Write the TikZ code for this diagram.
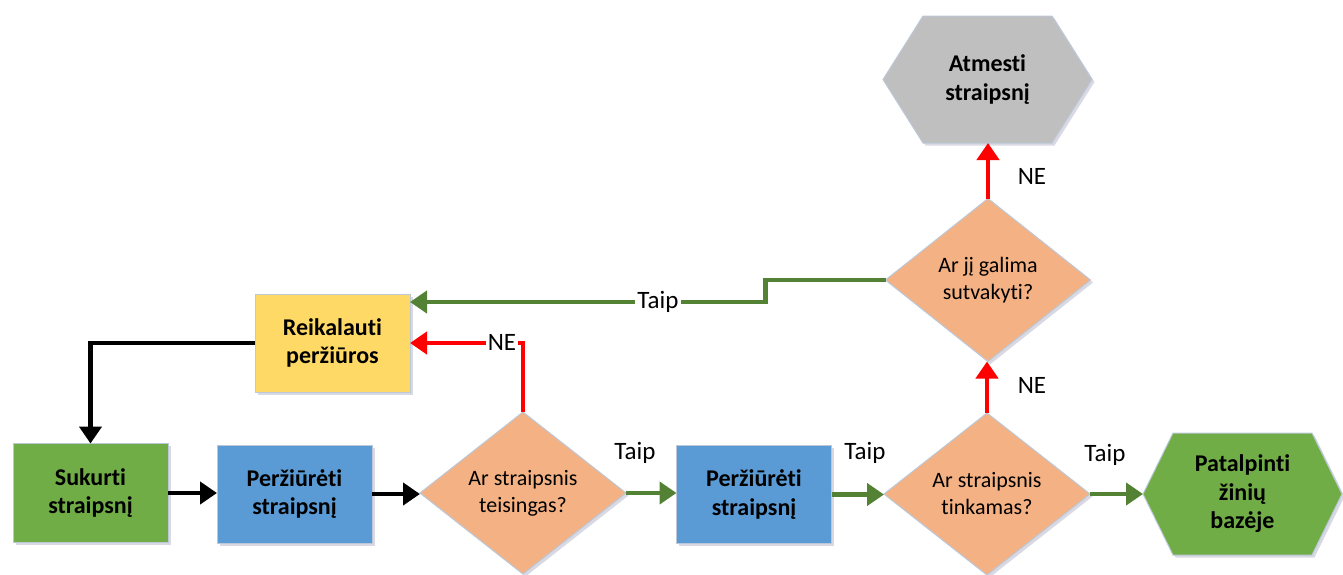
\documentclass[tikz,border=0pt]{standalone}
\usepackage{fontspec}
\setmainfont{Carlito}[Ligatures={TeX,NoCommon}]
\usetikzlibrary{shapes.geometric,arrows.meta,calc,shadows,backgrounds}

\definecolor{boxedge}{HTML}{BCC8D8}
\definecolor{greyfill}{HTML}{BFBFBF}
\definecolor{orangefill}{HTML}{F4B183}
\definecolor{yellowfill}{HTML}{FFD966}
\definecolor{greenfill}{HTML}{70AD47}
\definecolor{bluefill}{HTML}{5B9BD5}
\definecolor{yesgreen}{HTML}{548235}
\definecolor{nored}{HTML}{FF0000}

% hexagon outline around a named (invisible) node: node, inset, fill colour
\newcommand{\hexoutline}[3]{%
  \begin{pgfonlayer}{background}
    \draw[draw=boxedge, line width=1pt, fill=#3, soft shadow]
      (#1.west) -- ([xshift=#2]#1.north west) -- ([xshift=-#2]#1.north east)
      -- (#1.east) -- ([xshift=-#2]#1.south east) -- ([xshift=#2]#1.south west) -- cycle;
  \end{pgfonlayer}}

\begin{document}
\begin{tikzpicture}[x=1pt, y=-1pt,
  every node/.style={inner sep=0pt, outer sep=0pt},
  soft shadow/.style={drop shadow={shadow xshift=2.5pt, shadow yshift=-2.5pt, opacity=0.15, fill=black!70!blue}},
  taskbox/.style={rectangle, draw=boxedge, line width=1pt, minimum width=155pt,
    minimum height=98pt, align=center, font=\fontsize{24}{28.5}\selectfont\bfseries, soft shadow},
  question/.style={diamond, draw=boxedge, line width=1pt, fill=orangefill,
    minimum width=206pt, minimum height=162pt, align=center,
    font=\fontsize{22}{27}\selectfont, soft shadow,
    execute at begin node={\rule{0pt}{22pt}}},
  endbox/.style={rectangle, align=center, font=\fontsize{24}{28.5}\selectfont\bfseries,
    execute at begin node={\rule{0pt}{24pt}}},
  lbl/.style={font=\fontsize{25}{28}\selectfont},
  onlinelbl/.style={lbl, fill=white, inner xsep=2pt, inner ysep=1pt},
  flow/.style={line width=4.5pt, -{Triangle[length=17pt,width=22pt]}},
  plain/.style={flow, draw=black},
  yes/.style={flow, draw=yesgreen},
  no/.style={flow, draw=nored},
]
\useasboundingbox (0,0) rectangle (1343,574);

% process boxes
\node[taskbox, fill=yellowfill] (request) at (332.5,343) {Reikalauti\\peržiūros};
\node[taskbox, fill=greenfill, minimum height=99pt] (create) at (90.5,493) {Sukurti\\straipsnį};
\node[taskbox, fill=bluefill] (review1) at (294.5,494) {Peržiūrėti\\straipsnį};
\node[taskbox, fill=bluefill] (review2) at (754,494.5) {Peržiūrėti\\straipsnį};

% decisions
\node[question] (correct) at (523,493) {Ar straipsnis\\teisingas?};
\node[question] (suitable) at (987,494) {Ar straipsnis\\tinkamas?};
\node[question, minimum width=205pt, minimum height=163pt] (fixable) at (988,280) {Ar jį galima\\sutvakyti?};

% terminal hexagons
\node[endbox, minimum width=209pt, minimum height=127pt] (reject) at (987.5,79.5) {Atmesti\\straipsnį};
\hexoutline{reject}{40pt}{greyfill}
\node[endbox, minimum width=199pt, minimum height=122pt] (publish) at (1242.5,494) {Patalpinti\\žinių\\bazėje};
\hexoutline{publish}{30pt}{greenfill}

% main flow
\draw[plain] (request.west) -| (create.north);
\draw[plain] (create.east) -- (create.east -| review1.west);
\draw[plain] (review1.east) -- (review1.east -| correct.west);
\draw[yes] (correct.east) -- (correct.east -| review2.west);
\draw[yes] (review2.east) -- (review2.east -| suitable.west);
\draw[yes] (suitable.east) -- (publish.west);
\draw[no] (suitable.north) -- (suitable.north |- fixable.south);
\draw[no] (fixable.north) -- (fixable.north |- reject.south);
\draw[no] (correct.north) |- (request.east);
\draw[yes] (fixable.west) -- ++(-120,0) |- ($(request.east)+(0,-41)$);

% branch labels
\node[lbl] (t1) at (635,453) {Taip};
\node[lbl] (t2) at (865,453) {Taip};
\node[lbl] (t3) at (1105,455) {Taip};
\node[lbl] (n1) at (1032,176) {NE};
\node[lbl] (n2) at (1032,385) {NE};
\node[onlinelbl] (t4) at (658,302) {Taip};
\node[onlinelbl] (n3) at (502,342) {NE};
\end{tikzpicture}
\end{document}
